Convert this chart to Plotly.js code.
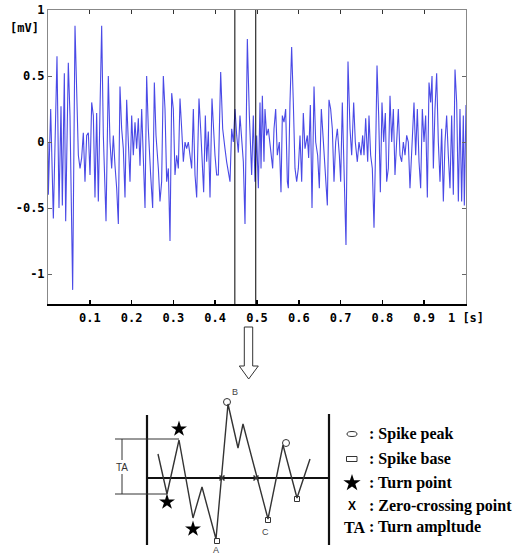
<!DOCTYPE html>
<html>
<head>
<meta charset="utf-8">
<script src="https://cdn.plot.ly/plotly-3.0.1.min.js"></script>
<style>html,body{margin:0;padding:0;background:#fff;}#chart{width:514px;height:556px;}</style>
</head>
<body>
<div id="chart"></div>
<script>
// ---- EMG signal (time in s, amplitude in mV) ----
const sigT = [0.0000,0.0008,0.0064,0.0128,0.0215,0.0263,0.0311,0.0343,0.0391,0.0423,0.0486,0.0526,0.0550,0.0590,0.0646,0.0686,0.0726,0.0766,0.0805,0.0845,0.0885,0.0925,0.0965,0.1005,0.1045,0.1085,0.1124,0.1164,0.1204,0.1244,0.1284,0.1324,0.1388,0.1443,0.1483,0.1523,0.1563,0.1603,0.1643,0.1683,0.1722,0.1762,0.1802,0.1842,0.1882,0.1922,0.1962,0.2002,0.2041,0.2081,0.2121,0.2161,0.2201,0.2241,0.2281,0.2321,0.2360,0.2400,0.2456,0.2504,0.2544,0.2584,0.2640,0.2679,0.2719,0.2759,0.2799,0.2839,0.2879,0.2919,0.2959,0.2998,0.3038,0.3078,0.3118,0.3158,0.3198,0.3238,0.3278,0.3317,0.3357,0.3397,0.3437,0.3477,0.3517,0.3557,0.3612,0.3652,0.3692,0.3724,0.3764,0.3796,0.3836,0.3876,0.3923,0.3955,0.3995,0.4035,0.4075,0.4131,0.4179,0.4234,0.4274,0.4354,0.4394,0.4434,0.4474,0.4514,0.4553,0.4593,0.4673,0.4713,0.4769,0.4817,
0.4872,0.4912,0.4952,0.4992,0.5032,0.5072,0.5096,0.5128,0.5167,0.5191,0.5231,0.5271,0.5311,0.5375,0.5407,0.5447,0.5486,0.5534,0.5574,0.5606,0.5646,0.5686,0.5726,0.5750,0.5789,0.5829,0.5869,0.5909,0.5949,0.5989,0.6029,0.6069,0.6108,0.6148,0.6204,0.6236,0.6276,0.6316,0.6364,0.6404,0.6451,0.6491,0.6539,0.6587,0.6635,0.6683,0.6722,0.6762,0.6802,0.6842,0.6882,0.6922,0.6970,0.7002,0.7041,0.7081,0.7129,0.7177,0.7225,0.7265,0.7313,0.7352,0.7400,0.7440,0.7488,0.7528,0.7560,0.7600,0.7648,0.7679,0.7719,0.7759,0.7799,0.7847,0.7871,0.7911,0.7951,0.7990,0.8030,0.8070,0.8102,0.8142,0.8182,0.8222,0.8262,0.8301,0.8341,0.8381,0.8421,0.8461,0.8501,0.8541,0.8581,0.8620,0.8660,0.8716,0.8756,0.8796,0.8836,0.8876,0.8915,0.8955,0.8995,0.9035,0.9075,0.9115,0.9155,0.9187,0.9219,0.9258,0.9298,0.9338,0.9378,0.9418,0.9458,0.9498,0.9537,0.9577,0.9617,0.9657,0.9697,0.9737,0.9777,0.9817,0.9856,0.9896,0.9936,0.9960,1.0000];
const sigV = [0.00,-0.40,0.25,-0.58,0.65,-0.50,0.27,-0.48,0.52,-0.60,0.60,0.20,-0.30,-1.12,0.88,0.30,-0.10,-0.20,-0.12,0.07,-0.30,0.05,0.07,-0.25,0.30,0.20,-0.42,0.22,-0.45,0.25,0.88,0.05,-0.60,0.50,0.00,-0.20,0.05,-0.18,-0.35,-0.62,0.42,0.10,-0.05,-0.42,0.32,0.00,-0.30,0.20,-0.10,0.15,-0.05,0.18,-0.18,0.25,-0.20,-0.50,0.50,0.10,-0.25,-0.50,0.45,0.05,-0.20,-0.45,-0.30,0.50,0.25,-0.30,-0.20,-0.75,0.37,0.25,-0.25,-0.10,-0.20,0.33,0.10,-0.15,0.00,-0.05,0.00,-0.10,-0.20,0.25,-0.25,-0.42,0.33,0.10,-0.18,-0.38,0.20,-0.15,0.08,-0.42,0.33,0.10,-0.10,-0.25,-0.25,0.53,0.10,-0.05,-0.15,-0.30,0.10,0.00,0.25,0.05,-0.08,0.20,-0.15,-0.62,0.78,0.20,
-0.25,0.20,-0.30,0.05,-0.35,0.30,-0.20,0.35,-0.15,0.25,0.05,0.10,0.00,-0.20,0.10,0.25,-0.10,0.00,-0.38,0.20,0.15,0.25,-0.30,-0.35,0.30,0.72,0.30,-0.20,-0.30,-0.20,0.05,-0.30,0.22,-0.05,0.05,-0.12,0.28,-0.50,0.42,0.00,-0.10,-0.35,0.25,0.00,-0.20,-0.48,0.32,0.25,0.10,-0.30,0.00,0.10,-0.10,-0.30,0.30,-0.20,-0.78,0.61,0.10,-0.10,0.30,0.00,-0.15,0.00,-0.10,0.05,-0.10,0.18,-0.15,0.20,-0.10,-0.20,-0.65,0.10,0.58,0.20,-0.38,0.30,0.00,0.22,-0.30,-0.20,0.35,0.00,0.25,-0.25,0.05,0.25,-0.10,-0.15,0.00,-0.10,0.05,0.00,-0.35,0.10,0.30,-0.10,0.25,-0.15,-0.35,0.25,0.00,0.20,-0.42,0.45,0.30,0.50,-0.20,0.25,0.52,0.00,-0.30,0.10,-0.45,0.00,0.20,-0.10,-0.35,0.20,-0.40,0.55,0.30,-0.45,0.25,-0.45,0.20,-0.48,0.28];
const cursorT = [0.447, 0.497];
const xTickVals = [0.1,0.2,0.3,0.4,0.5,0.6,0.7,0.8,0.9,1];
const xTickText = ['0.1','0.2','0.3','0.4','0.5','0.6','0.7','0.8','0.9','1 [s]'];
const yTickVals = [-1,-0.5,0,0.5,1];
const yTickText = ['-1','-0.5','0','0.5','1'];

// ---- schematic diagram (units: px right, px up from baseline) ----
const zigX = [158,167,179,193,202,216,228,238,243,268,283,297,310];
const zigY = [24,-16,38,-40,-9,-61,74,30,54,-41,33,-20,19];
const peakX = [227,286], peakY = [76,35];
const baseX = [217,268,297], baseY = [-63,-42,-21];
const turnX = [179,167,193], turnY = [49,-24,-51];
const zeroX = [222,256], zeroY = [0,0];
const barLeftX = [147,147], barLeftY = [63,-67];
const barRightX = [329,329], barRightY = [64,-67];
const baselineX = [147,329], baselineY = [0,0];
const ptLabels = ['B','A','C'], ptLabelX = [235,216,265], ptLabelY = [86,-72,-54];
const legendLabels = [': Spike peak',': Spike base',': Turn point',': Zero-crossing point',': Turn ampltude'];
const legendY = [44,19,-5,-28,-49];

const monoBold = {family:'DejaVu Sans Mono', size:12, color:'#000', weight:'bold'};
const serifBold = {family:'Liberation Serif', size:16, color:'#000', weight:'bold'};
const smallSans = {family:'Liberation Sans', size:9, color:'#444'};

const traces = [
  {x:sigT, y:sigV, type:'scatter', mode:'lines', line:{color:'#4a4ae6', width:1.1}, xaxis:'x', yaxis:'y', hoverinfo:'skip'},
  {x:[null], y:[null], xaxis:'x3', yaxis:'y', mode:'lines', hoverinfo:'skip'},
  {x:baselineX, y:baselineY, mode:'lines', line:{color:'#111', width:2.2}, xaxis:'x2', yaxis:'y2'},
  {x:barLeftX, y:barLeftY, mode:'lines', line:{color:'#111', width:2.2}, xaxis:'x2', yaxis:'y2'},
  {x:barRightX, y:barRightY, mode:'lines', line:{color:'#111', width:2.2}, xaxis:'x2', yaxis:'y2'},
  {x:zigX, y:zigY, mode:'lines', line:{color:'#333', width:1.4}, xaxis:'x2', yaxis:'y2'},
  {x:peakX, y:peakY, mode:'markers', marker:{symbol:'circle-open', size:7, color:'#333', line:{width:1}}, xaxis:'x2', yaxis:'y2'},
  {x:baseX, y:baseY, mode:'markers', marker:{symbol:'square-open', size:5, color:'#333', line:{width:1}}, xaxis:'x2', yaxis:'y2'},
  {x:turnX, y:turnY, mode:'markers', marker:{symbol:'star', size:12, color:'#000'}, xaxis:'x2', yaxis:'y2'},
  {x:zeroX, y:zeroY, mode:'markers', marker:{symbol:'x-thin-open', size:5, color:'#333', line:{width:1.5}}, xaxis:'x2', yaxis:'y2'},
  {x:[352], y:[legendY[2]], mode:'markers', marker:{symbol:'star', size:13, color:'#000'}, xaxis:'x2', yaxis:'y2'}
];
traces.forEach(t => { t.showlegend = false; if(!t.hoverinfo) t.hoverinfo = 'skip'; });

const shapes = [];
cursorT.forEach(t => shapes.push({type:'line', xref:'x', yref:'y domain', x0:t, x1:t, y0:0, y1:1, line:{color:'#000', width:1}}));
// TA bracket
shapes.push({type:'line', xref:'x2', yref:'y2', x0:115, x1:179, y0:39, y1:39, line:{color:'#333', width:1}});
shapes.push({type:'line', xref:'x2', yref:'y2', x0:115, x1:167, y0:-16, y1:-16, line:{color:'#333', width:1}});
shapes.push({type:'line', xref:'x2', yref:'y2', x0:122, x1:122, y0:39, y1:18, line:{color:'#333', width:1}});
shapes.push({type:'line', xref:'x2', yref:'y2', x0:122, x1:122, y0:4, y1:-16, line:{color:'#333', width:1}});
// hollow arrow
shapes.push({type:'path', xref:'x2', yref:'y2', path:'M 244.3,151 L 244.3,112 L 239.3,112 L 248.7,99 L 258.3,112 L 252.7,112 L 252.7,151 Z', line:{color:'#333', width:1}});
// legend symbols
shapes.push({type:'circle', xref:'x2', yref:'y2', x0:347, x1:357, y0:legendY[0]-2.5, y1:legendY[0]+2.5, line:{color:'#333', width:1}});
shapes.push({type:'rect', xref:'x2', yref:'y2', x0:346.5, x1:357, y0:legendY[1]-2.5, y1:legendY[1]+2.5, line:{color:'#333', width:1}});

const annotations = [];
annotations.push({xref:'paper', yref:'paper', x:41/514, y:1-28/556, xanchor:'right', yanchor:'middle', text:'[mV]', showarrow:false, font:monoBold});
ptLabels.forEach((s,i) => annotations.push({xref:'x2', yref:'y2', x:ptLabelX[i], y:ptLabelY[i], text:s, showarrow:false, font:smallSans}));
annotations.push({xref:'x2', yref:'y2', x:122, y:11, text:'TA', showarrow:false, font:{family:'Liberation Sans', size:10, color:'#333'}});
legendLabels.forEach((s,i) => annotations.push({xref:'x2', yref:'y2', x:367, y:legendY[i], xanchor:'left', yanchor:'middle', text:s, showarrow:false, font:serifBold}));
annotations.push({xref:'x2', yref:'y2', x:352, y:legendY[3], text:'X', showarrow:false, font:{family:'Liberation Sans', size:12, color:'#000', weight:'bold'}});
annotations.push({xref:'x2', yref:'y2', x:354, y:legendY[4], text:'TA', showarrow:false, font:serifBold});

const xDom = [48/514, 466/514];
const layout = {
  width:514, height:556, autosize:false,
  margin:{l:0, r:0, t:0, b:0, pad:0},
  paper_bgcolor:'#fff', plot_bgcolor:'rgba(0,0,0,0)',
  showlegend:false,
  xaxis:{domain:xDom, range:[0,1], anchor:'y', tickvals:xTickVals, ticktext:xTickText, ticks:'inside', ticklen:4, tickwidth:1.5, tickcolor:'#000', showline:true, linecolor:'#000', linewidth:2, showgrid:false, zeroline:false, tickfont:monoBold, ticklabelstandoff:2},
  xaxis3:{overlaying:'x', side:'top', anchor:'y', range:[0,1], tickvals:xTickVals, ticks:'inside', ticklen:4, tickwidth:1, tickcolor:'#333', showticklabels:false, showline:true, linecolor:'#888', linewidth:1, showgrid:false, zeroline:false},
  yaxis:{domain:[252/556, 546/556], range:[-1.227,1], anchor:'x', tickvals:yTickVals, ticktext:yTickText, ticks:'inside', ticklen:4, tickwidth:1, tickcolor:'#666', mirror:'ticks', showline:true, linecolor:'#888', linewidth:1, showgrid:false, zeroline:false, tickfont:monoBold},
  xaxis2:{domain:[0,1], range:[0,514], anchor:'y2', visible:false, fixedrange:true},
  yaxis2:{domain:[0,1], range:[-78,478], anchor:'x2', visible:false, fixedrange:true},
  shapes:shapes,
  annotations:annotations
};
Plotly.newPlot('chart', traces, layout, {displayModeBar:false, staticPlot:true});
</script>
</body>
</html>
